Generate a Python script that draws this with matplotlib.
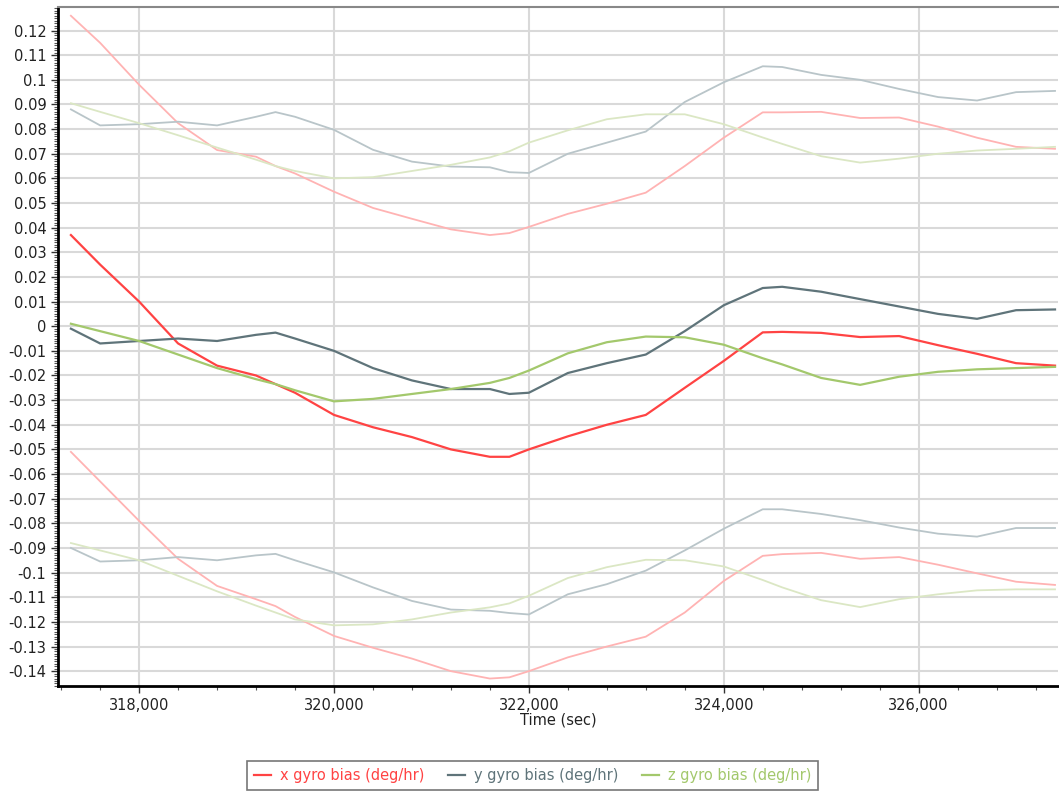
import numpy as np
import matplotlib.pyplot as plt
from matplotlib.ticker import MultipleLocator, FuncFormatter

# sample times (sec)
t = [317300, 317600, 318000, 318400, 318800, 319200, 319400, 319600, 320000,
     320400, 320800, 321200, 321600, 321800, 322000, 322400, 322800, 323200,
     323600, 324000, 324400, 324600, 325000, 325400, 325800, 326200, 326600,
     327000, 327400]

x_bias = [0.037, 0.025, 0.010, -0.007, -0.016, -0.020, -0.0235, -0.027, -0.036,
          -0.041, -0.045, -0.050, -0.053, -0.053, -0.050, -0.0447, -0.040, -0.036,
          -0.025, -0.0141, -0.0025, -0.0023, -0.0027, -0.0044, -0.004, -0.0077,
          -0.0112, -0.015, -0.0160]
x_upper = [0.126, 0.115, 0.098, 0.0824, 0.0715, 0.0688, 0.065, 0.062, 0.0546,
           0.048, 0.0436, 0.0393, 0.037, 0.0378, 0.0403, 0.0456, 0.0497, 0.0542,
           0.065, 0.0765, 0.0868, 0.0868, 0.087, 0.0845, 0.0847, 0.081,
           0.0765, 0.0728, 0.072]
x_lower = [-0.051, -0.063, -0.079, -0.0944, -0.1054, -0.1108, -0.1136, -0.118, -0.1257,
           -0.1305, -0.1349, -0.140, -0.143, -0.1425, -0.140, -0.1344, -0.130, -0.126,
           -0.1162, -0.1034, -0.0932, -0.0925, -0.092, -0.0944, -0.0937, -0.0968,
           -0.1003, -0.1037, -0.105]

y_bias = [-0.001, -0.007, -0.006, -0.005, -0.006, -0.0035, -0.0026, -0.005, -0.010,
          -0.017, -0.022, -0.0255, -0.0255, -0.0275, -0.027, -0.019, -0.015, -0.0115,
          -0.002, 0.0085, 0.0155, 0.016, 0.014, 0.011, 0.008, 0.005,
          0.003, 0.0065, 0.0068]
y_upper = [0.088, 0.0815, 0.082, 0.083, 0.0815, 0.085, 0.0869, 0.085, 0.0797,
           0.0716, 0.0668, 0.0648, 0.0645, 0.0625, 0.0622, 0.070, 0.0745, 0.079,
           0.091, 0.099, 0.1055, 0.1052, 0.102, 0.100, 0.0963, 0.093,
           0.0916, 0.095, 0.0955]
y_lower = [-0.090, -0.0955, -0.095, -0.0937, -0.095, -0.093, -0.0924, -0.095, -0.0999,
           -0.106, -0.1115, -0.115, -0.1155, -0.1164, -0.117, -0.1088, -0.1047, -0.0992,
           -0.091, -0.0822, -0.0743, -0.0743, -0.0762, -0.0787, -0.0817, -0.0842,
           -0.0854, -0.0819, -0.0819]

z_bias = [0.001, -0.002, -0.006, -0.0115, -0.017, -0.0215, -0.0235, -0.026, -0.0305,
          -0.0295, -0.0275, -0.0255, -0.023, -0.021, -0.018, -0.011, -0.0065, -0.0042,
          -0.0045, -0.0075, -0.013, -0.0155, -0.021, -0.0238, -0.0205, -0.0185,
          -0.0175, -0.017, -0.0165]
z_upper = [0.0905, 0.087, 0.0824, 0.0775, 0.0725, 0.0676, 0.065, 0.063, 0.060,
           0.0605, 0.063, 0.0655, 0.0685, 0.071, 0.0745, 0.0795, 0.084, 0.086,
           0.086, 0.082, 0.0766, 0.074, 0.069, 0.0664, 0.068, 0.070,
           0.0713, 0.072, 0.0728]
z_lower = [-0.088, -0.091, -0.095, -0.1013, -0.1076, -0.1134, -0.1162, -0.119, -0.1214,
           -0.121, -0.119, -0.1162, -0.1141, -0.1125, -0.1094, -0.1022, -0.0978, -0.0948,
           -0.095, -0.0975, -0.103, -0.106, -0.1112, -0.114, -0.1108, -0.1088,
           -0.1072, -0.1068, -0.1068]

labels = ['x gyro bias (deg/hr)', 'y gyro bias (deg/hr)', 'z gyro bias (deg/hr)']
colors = ['#ff4343', '#5f747a', '#a3c86c']
light = ['#ffb3b3', '#b9c5c9', '#dbe7c4']

fig = plt.figure(figsize=(10.59, 7.93), dpi=100)
ax = fig.add_axes([0.055, 0.135, 0.944, 0.856])

series = [(x_bias, x_upper, x_lower), (y_bias, y_upper, y_lower), (z_bias, z_upper, z_lower)]
for (main, up, lo), c, lc in zip(series, colors, light):
    ax.plot(t, up, color=lc, lw=1.3, zorder=2)
    ax.plot(t, lo, color=lc, lw=1.3, zorder=2)
handles = []
for (main, up, lo), c, lab in zip(series, colors, labels):
    h, = ax.plot(t, main, color=c, lw=1.6, zorder=3, label=lab)
    handles.append(h)

ax.set_xlim(317170, 327430)
ax.set_ylim(-0.146, 0.1295)

ax.xaxis.set_major_locator(MultipleLocator(2000))
ax.xaxis.set_minor_locator(MultipleLocator(400))
ax.xaxis.set_major_formatter(FuncFormatter(lambda v, p: f"{int(round(v)):,}"))
ax.yaxis.set_major_locator(MultipleLocator(0.01))
ax.yaxis.set_minor_locator(MultipleLocator(0.001))
ax.yaxis.set_major_formatter(FuncFormatter(lambda v, p: f"{round(v, 2):g}" if abs(v) > 1e-9 else "0"))

ax.grid(True, which='major', color='#d9d9d9', lw=1.5, zorder=0)
ax.tick_params(axis='both', which='major', labelsize=10.5, length=5, width=1, colors='#333333', labelcolor='#222222')
ax.tick_params(axis='y', which='minor', length=3, width=0.8, colors='#555555')
ax.tick_params(axis='x', which='minor', length=3, width=0.8, colors='#555555')

for s in ['left', 'bottom']:
    ax.spines[s].set_color('black')
    ax.spines[s].set_linewidth(2)
ax.spines['top'].set_color('#888888')
ax.spines['top'].set_linewidth(1.5)
ax.spines['right'].set_visible(False)

ax.set_xlabel('Time (sec)', fontsize=10.5, labelpad=0, color='#222222')

leg = fig.legend(handles=handles, loc='center', bbox_to_anchor=(0.503, 0.022), ncol=3,
                 fontsize=10.5, frameon=True, fancybox=False, edgecolor='#555555',
                 handlelength=1.2, columnspacing=1.6, handletextpad=0.6,
                 borderpad=0.45)
leg.get_frame().set_linewidth(1.2)
for txt, c in zip(leg.get_texts(), colors):
    txt.set_color(c)

plt.savefig('out.png', dpi=100)
